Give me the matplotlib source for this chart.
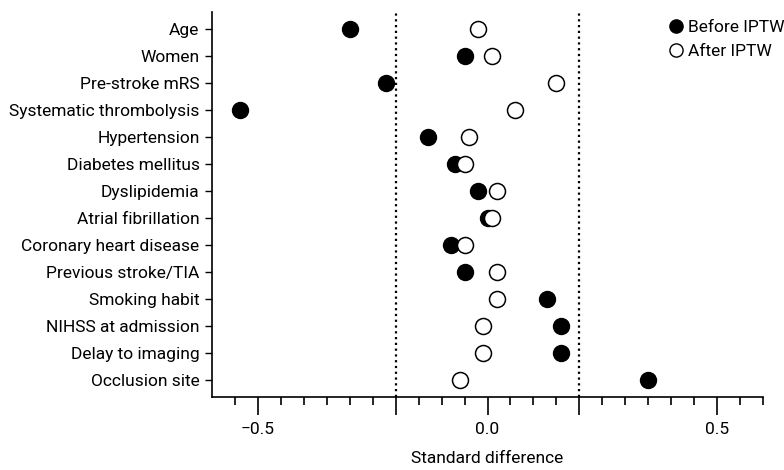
import matplotlib
matplotlib.use("Agg")
import matplotlib.pyplot as plt
from matplotlib.lines import Line2D
from matplotlib.ticker import FixedLocator
import numpy as np

plt.rcParams['font.family'] = ['Roboto', 'DejaVu Sans']

categories = ["Age", "Women", "Pre-stroke mRS", "Systematic thrombolysis",
              "Hypertension", "Diabetes mellitus", "Dyslipidemia",
              "Atrial fibrillation", "Coronary heart disease",
              "Previous stroke/TIA", "Smoking habit", "NIHSS at admission",
              "Delay to imaging", "Occlusion site"]
before_iptw = [-0.30, -0.05, -0.22, -0.54, -0.13, -0.07, -0.02,
               0.00, -0.08, -0.05, 0.13, 0.16, 0.16, 0.35]
after_iptw = [-0.02, 0.01, 0.15, 0.06, -0.04, -0.05, 0.02,
              0.01, -0.05, 0.02, 0.02, -0.01, -0.01, -0.06]
threshold = 0.2
xtick_values = [-0.5, -0.2, 0.0, 0.2, 0.5]
xtick_labels = ["\u22120.5", "", "0.0", "", "0.5"]

fig = plt.figure(figsize=(7.84, 4.70), dpi=100)
ax = fig.add_axes([212/784, 1-397/470, (763-212)/784, (397-12)/470])

n = len(categories)
ypos = np.arange(n, 0, -1)

for v in (-threshold, threshold):
    ax.axvline(v, color='black', linestyle=(0, (1, 1.6)), linewidth=1.6, zorder=1)

ax.plot(before_iptw, ypos, linestyle='none', marker='o', markersize=11.5,
        markerfacecolor='black', markeredgecolor='black', zorder=3)
ax.plot(after_iptw, ypos, linestyle='none', marker='o', markersize=11.5,
        markerfacecolor='white', markeredgecolor='black', markeredgewidth=1.1, zorder=4)

ax.set_xlim(-0.6, 0.6)
ax.set_ylim(0.37, n + 0.63)
ax.set_yticks(ypos)
ax.set_yticklabels(categories, fontsize=12.5)
ax.set_xticks(xtick_values)
ax.set_xticklabels(xtick_labels, fontsize=12.5)
minor = [x for x in np.round(np.arange(-0.55, 0.61, 0.05), 2) if x not in xtick_values]
ax.xaxis.set_minor_locator(FixedLocator(minor))
ax.tick_params(axis='x', which='major', length=13, width=1.2, pad=5)
ax.tick_params(axis='x', which='minor', length=6, width=1.2)
ax.tick_params(axis='y', which='major', length=5, width=1.0, pad=4)

for s in ('top', 'right'):
    ax.spines[s].set_visible(False)
ax.spines['left'].set_linewidth(1.2)
ax.spines['bottom'].set_linewidth(1.2)

ax.set_xlabel("Standard difference", fontsize=12.5, labelpad=10)

handles = [Line2D([], [], linestyle='none', marker='o', markersize=9.5,
                  markerfacecolor='black', markeredgecolor='black'),
           Line2D([], [], linestyle='none', marker='o', markersize=9.5,
                  markerfacecolor='white', markeredgecolor='black', markeredgewidth=1.0)]
fig.legend(handles, ["Before IPTW", "After IPTW"], loc='upper left',
           bbox_to_anchor=(671/784, 1-20/470), frameon=False, fontsize=12.5,
           handlelength=0.6, handletextpad=0.4, labelspacing=0.5, borderpad=0,
           borderaxespad=0)

fig.savefig("out.png", dpi=100)
